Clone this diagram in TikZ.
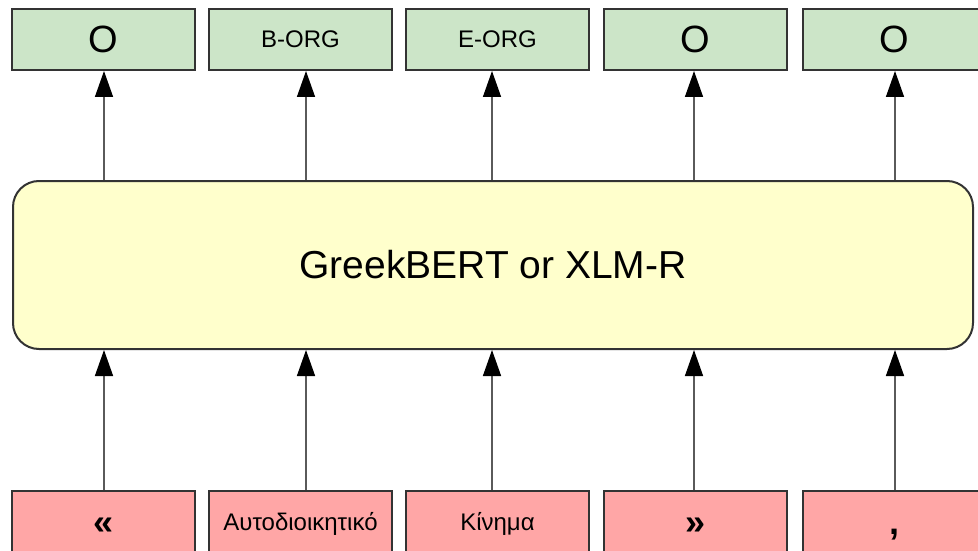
\documentclass[tikz,border=0pt]{standalone}
\usepackage{fontspec}
\setmainfont{Liberation Sans}
\usetikzlibrary{positioning,arrows.meta}

\definecolor{taggreen}{RGB}{204,229,200}
\definecolor{tokred}{RGB}{255,166,166}
\definecolor{encyellow}{RGB}{255,255,204}
\definecolor{boxline}{RGB}{51,51,51}
\definecolor{arrowgray}{RGB}{90,90,90}

\tikzset{
  tagbox/.style={draw=boxline, line width=2pt, fill=taggreen,
    minimum width=183pt, minimum height=61pt, inner sep=0pt, text depth=0pt},
  tokbox/.style={tagbox, fill=tokred},
  bigtxt/.style={font=\fontsize{38}{38}\selectfont, text height=27pt},
  smalltxt/.style={font=\fontsize{24}{24}\selectfont, text height=17pt},
  marktxt/.style={font=\fontsize{36}{36}\selectfont\bfseries, text height=26pt},
  encbox/.style={draw=boxline, line width=2pt, fill=encyellow, rounded corners=26pt,
    minimum width=960pt, minimum height=168pt, inner sep=0pt,
    font=\fontsize{39}{39}\selectfont},
  uparrow/.style={draw=arrowgray, line width=1.5pt,
    -{Triangle[length=26pt,width=18pt,color=black]}}
}

\begin{document}
\begin{tikzpicture}[x=1pt, y=-1pt, node distance=12pt]
  \useasboundingbox (0,0) rectangle (978,551);

  % output tags
  \node[tagbox, bigtxt] (out1) at (103.5,39.5) {O};
  \node[tagbox, smalltxt, right=of out1] (out2) {B-ORG};
  \node[tagbox, smalltxt, right=of out2] (out3) {E-ORG};
  \node[tagbox, bigtxt, right=13pt of out3] (out4) {O};
  \node[tagbox, bigtxt, right=14pt of out4] (out5) {O};

  % encoder
  \node[encbox] (enc) at (493,265) {GreekBERT or XLM-R};

  % input tokens
  \node[tokbox, marktxt] (in1) at (103.5,521.5) {«};
  \node[tokbox, smalltxt, right=of in1] (in2) {Αυτοδιοικητικό};
  \node[tokbox, smalltxt, right=of in2] (in3) {Κίνημα};
  \node[tokbox, marktxt, right=13pt of in3] (in4) {»};
  \node[tokbox, marktxt, right=14pt of in4] (in5) {,};

  % arrows in and out of the encoder
  \foreach \i/\x in {1/104, 2/306, 3/492, 4/694, 5/895} {
    \coordinate (col\i) at (\x,0);
    \draw[uparrow] (in\i.north -| col\i) -- (enc.south -| col\i);
    \draw[uparrow] (enc.north -| col\i) -- (out\i.south -| col\i);
  }
\end{tikzpicture}
\end{document}
